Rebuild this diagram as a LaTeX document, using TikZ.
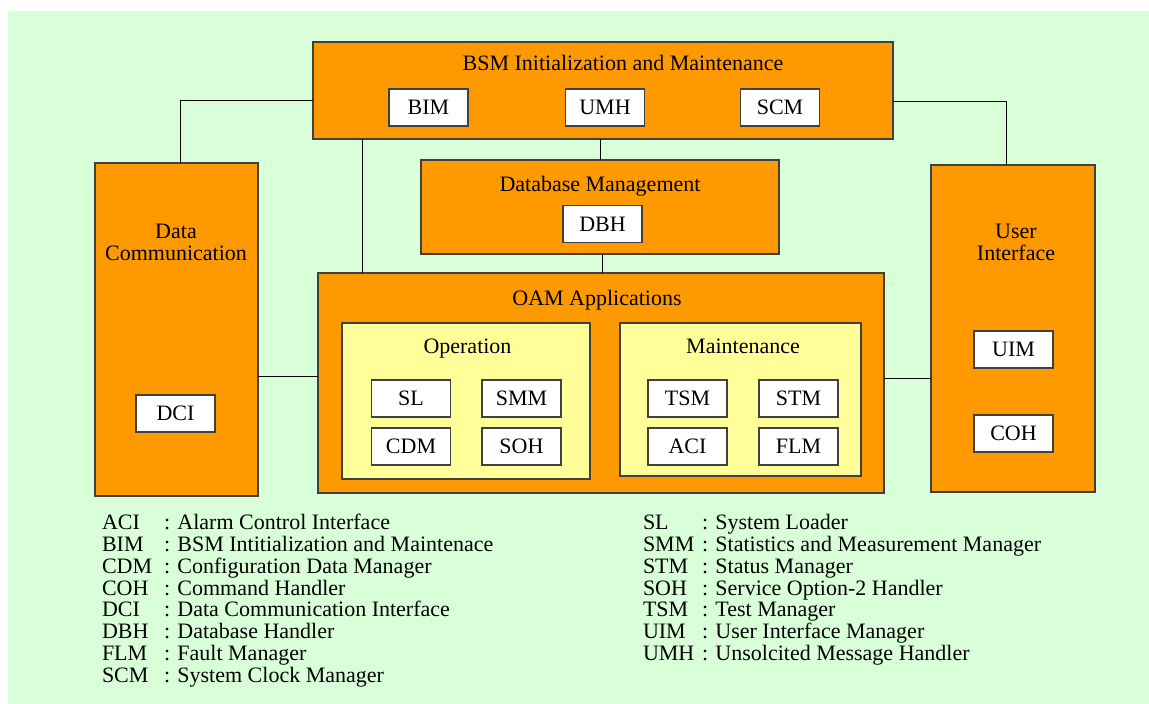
\documentclass[tikz,border=0pt]{standalone}
\usepackage{fontspec}
\setmainfont{Liberation Serif}
\begin{document}
\begin{tikzpicture}[x=1pt,y=-1pt,
  every node/.style={inner sep=0pt, outer sep=0pt, font=\fontsize{22}{22}\selectfont},
  frame/.style={draw=black!75, line width=1.2pt},
  orangebox/.style={frame, fill=orange1},
  yellowbox/.style={frame, fill=yellow1},
  itembox/.style={frame, fill=white, minimum width=79pt, minimum height=37pt, text height=14.4pt, text depth=0pt},
  title/.style={anchor=base},
  link/.style={draw=black, line width=0.9pt},
  abbr/.style={anchor=base west},
  desc/.style={anchor=base west}]
\definecolor{orange1}{HTML}{FF9900}
\definecolor{yellow1}{HTML}{FFFF99}
\definecolor{green1}{HTML}{D9FFD9}
\useasboundingbox (0,0) rectangle (1149,704);
\fill[green1] (8,11) rectangle (1149,704);

% BSM initialization and maintenance block
\node[orangebox, minimum width=580pt, minimum height=97pt] (bsm) at (603,90.5) {};
\node[title] (bsmt) at (623,70) {BSM Initialization and Maintenance};
\node[itembox] (bim) at (428.5,107.5) {BIM};
\node[itembox] (umh) at (605,107.5) {UMH};
\node[itembox] (scm) at (780,107.5) {SCM};

% Data communication block
\node[orangebox, minimum width=163pt, minimum height=333pt] (dc) at (176.5,329.5) {};
\node[title] (dct1) at (176,238) {Data};
\node[title] (dct2) at (176,260) {Communication};
\node[itembox] (dci) at (175.5,413.5) {DCI};

% Database management block
\node[orangebox, minimum width=358pt, minimum height=94pt] (dbm) at (600,207) {};
\node[title] (dbmt) at (600,191) {Database Management};
\node[itembox] (dbh) at (602.5,224) {DBH};

% OAM applications block
\node[orangebox, minimum width=566pt, minimum height=220pt] (oam) at (601,383) {};
\node[title] (oamt) at (597,305.5) {OAM Applications};

\node[yellowbox, minimum width=248pt, minimum height=156pt] (op) at (466,401) {};
\node[title] (opt) at (467.5,353.3) {Operation};
\node[itembox] (sl) at (411,398.5) {SL};
\node[itembox] (smm) at (521.5,398.5) {SMM};
\node[itembox] (cdm) at (411,446.5) {CDM};
\node[itembox] (soh) at (521.5,446.5) {SOH};

\node[yellowbox, minimum width=241pt, minimum height=153pt] (mt) at (740.5,399.5) {};
\node[title] (mtt) at (743,353.3) {Maintenance};
\node[itembox] (tsm) at (687.5,398.5) {TSM};
\node[itembox] (stm) at (798.5,398.5) {STM};
\node[itembox] (aci) at (687.5,446.5) {ACI};
\node[itembox] (flm) at (798.5,446.5) {FLM};

% User interface block
\node[orangebox, minimum width=164pt, minimum height=327pt] (ui) at (1013,328.5) {};
\node[title] (uit1) at (1016,238) {User};
\node[title] (uit2) at (1016,260) {Interface};
\node[itembox] (uim) at (1013.5,349.5) {UIM};
\node[itembox] (coh) at (1013.5,433.5) {COH};

% Connections
\draw[link] ([xshift=3.5pt]dc.north) |- ([yshift=-9.5pt]bsm.west);
\draw[link] ([xshift=-7pt]ui.north) |- ([yshift=-10.5pt]bsm.east);
\draw[link] ([xshift=49pt]bsm.south west) -- ([xshift=44pt]oam.north west);
\draw[link] (dbm.north) -- (dbm.north |- bsm.south);
\draw[link] ([xshift=2pt]dbm.south) coordinate (d1) -- (d1 |- oam.north);
\draw[link] ([yshift=-47pt]dc.east) coordinate (c1) -- (c1 -| oam.west);
\draw[link] ([yshift=5pt]oam.east) coordinate (c2) -- (c2 -| ui.west);

% Abbreviation list
\foreach \a/\d [count=\i from 0] in {ACI/Alarm Control Interface,
    BIM/BSM Intitialization and Maintenace,
    CDM/Configuration Data Manager,
    COH/Command Handler,
    DCI/Data Communication Interface,
    DBH/Database Handler,
    FLM/Fault Manager,
    SCM/System Clock Manager}{
  \node[abbr] (la\i) at (102,529.3+21.9*\i) {\a};
  \node[desc] (ld\i) at (164,529.3+21.9*\i) {: \d};
}
\foreach \a/\d [count=\i from 0] in {SL/System Loader,
    SMM/Statistics and Measurement Manager,
    STM/Status Manager,
    SOH/Service Option-2 Handler,
    TSM/Test Manager,
    UIM/User Interface Manager,
    UMH/Unsolcited Message Handler}{
  \node[abbr] (ra\i) at (643,529.3+21.9*\i) {\a};
  \node[desc] (rd\i) at (702,529.3+21.9*\i) {: \d};
}
\end{tikzpicture}
\end{document}
